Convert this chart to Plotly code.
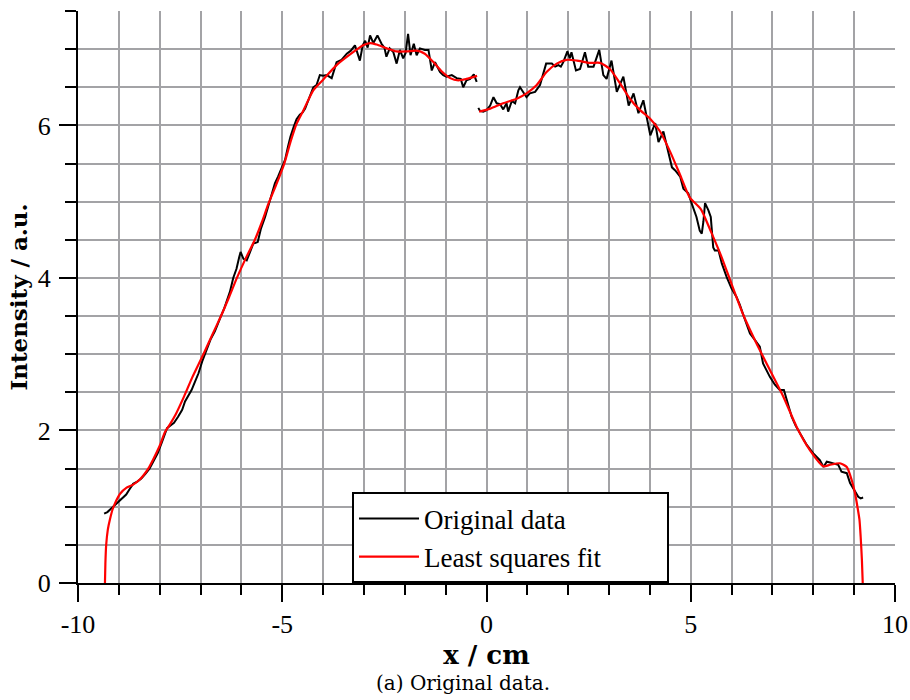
import plotly.graph_objects as go

# ---- Original data (left segment) ----
data_x_left = [-9.36, -9.28, -9.20, -9.10, -9.00, -8.90, -8.82, -8.75, -8.65, -8.55,
               -8.45, -8.35, -8.25, -8.15, -8.05, -7.95, -7.88, -7.82, -7.75, -7.65,
               -7.55, -7.45, -7.38, -7.30, -7.22, -7.15, -7.05, -6.95, -6.85, -6.75,
               -6.65, -6.58, -6.50, -6.42, -6.35, -6.28, -6.20, -6.12, -6.05, -6.02,
               -5.95, -5.87, -5.78, -5.71, -5.60, -5.52, -5.42, -5.34, -5.26, -5.18,
               -5.10, -5.02, -4.93, -4.86, -4.80, -4.72, -4.65, -4.57, -4.50, -4.44,
               -4.38, -4.32, -4.24, -4.16, -4.08, -4.00, -3.91, -3.79, -3.72, -3.67,
               -3.55, -3.42, -3.32, -3.22, -3.10, -3.03, -2.97, -2.91, -2.85, -2.77,
               -2.67, -2.57, -2.50, -2.45, -2.37, -2.28, -2.20, -2.12, -2.04, -1.98,
               -1.92, -1.86, -1.78, -1.71, -1.63, -1.51, -1.42, -1.34, -1.26, -1.14,
               -1.06, -0.98, -0.85, -0.73, -0.63, -0.57, -0.49, -0.40, -0.31, -0.24]
data_y_left = [0.91, 0.93, 0.97, 1.02, 1.07, 1.12, 1.16, 1.22, 1.30, 1.33,
               1.37, 1.43, 1.50, 1.60, 1.70, 1.84, 1.95, 2.03, 2.06, 2.10,
               2.18, 2.27, 2.38, 2.45, 2.53, 2.62, 2.75, 2.92, 3.06, 3.20,
               3.30, 3.40, 3.50, 3.60, 3.72, 3.82, 4.00, 4.12, 4.28, 4.34,
               4.25, 4.23, 4.35, 4.45, 4.47, 4.65, 4.80, 4.95, 5.09, 5.24,
               5.33, 5.43, 5.55, 5.72, 5.85, 5.98, 6.08, 6.14, 6.17, 6.22,
               6.30, 6.40, 6.50, 6.53, 6.66, 6.65, 6.66, 6.62, 6.75, 6.83,
               6.86, 6.94, 6.98, 7.05, 6.85, 7.05, 7.11, 7.02, 7.18, 7.08,
               7.18, 7.07, 7.02, 6.90, 7.01, 6.96, 6.81, 6.99, 6.88, 6.95,
               7.20, 6.92, 7.07, 6.92, 7.01, 6.99, 6.99, 6.72, 6.83, 6.70,
               6.66, 6.64, 6.66, 6.62, 6.61, 6.50, 6.59, 6.61, 6.67, 6.57]

# ---- Original data (right segment) ----
data_x_right = [-0.20, -0.16, -0.08, 0.00, 0.09, 0.17, 0.25, 0.33, 0.41, 0.49,
                0.53, 0.62, 0.70, 0.78, 0.82, 0.90, 0.98, 1.06, 1.19, 1.31,
                1.39, 1.46, 1.60, 1.68, 1.76, 1.82, 1.88, 1.98, 2.04, 2.08,
                2.19, 2.29, 2.41, 2.49, 2.62, 2.76, 2.86, 2.94, 3.06, 3.19,
                3.35, 3.48, 3.60, 3.72, 3.84, 4.01, 4.13, 4.21, 4.33, 4.45,
                4.54, 4.62, 4.74, 4.82, 4.94, 5.02, 5.14, 5.22, 5.27, 5.31,
                5.35, 5.43, 5.49, 5.55, 5.59, 5.68, 5.76, 5.88, 6.00, 6.12,
                6.20, 6.29, 6.37, 6.45, 6.55, 6.61, 6.69, 6.77, 6.86, 6.94,
                7.06, 7.18, 7.28, 7.35, 7.47, 7.57, 7.67, 7.76, 7.84, 8.00,
                8.16, 8.25, 8.33, 8.41, 8.49, 8.61, 8.69, 8.82, 8.90, 9.02,
                9.10, 9.16, 9.22]
data_y_right = [6.23, 6.19, 6.18, 6.20, 6.26, 6.37, 6.29, 6.28, 6.21, 6.29,
                6.18, 6.32, 6.29, 6.46, 6.50, 6.44, 6.37, 6.42, 6.44, 6.53,
                6.68, 6.81, 6.81, 6.77, 6.79, 6.77, 6.83, 6.97, 6.88, 6.96,
                6.72, 6.74, 6.96, 6.77, 6.77, 6.99, 6.66, 6.61, 6.85, 6.44,
                6.64, 6.26, 6.42, 6.16, 6.33, 5.87, 6.03, 5.78, 5.92, 5.67,
                5.45, 5.41, 5.33, 5.17, 5.11, 4.98, 4.80, 4.62, 4.58, 4.74,
                4.98, 4.89, 4.80, 4.40, 4.36, 4.36, 4.19, 4.01, 3.86, 3.75,
                3.65, 3.51, 3.38, 3.27, 3.20, 3.16, 3.10, 2.88, 2.78, 2.70,
                2.60, 2.53, 2.53, 2.40, 2.18, 2.06, 1.96, 1.88, 1.81, 1.70,
                1.61, 1.52, 1.59, 1.58, 1.57, 1.55, 1.46, 1.44, 1.31, 1.20,
                1.13, 1.11, 1.12]

# ---- Least squares fit (left segment) ----
fit_x_left = [-9.34, -9.33, -9.31, -9.27, -9.22, -9.15, -9.09, -8.97, -8.81, -8.65,
              -8.50, -8.40, -8.28, -8.16, -8.00, -7.87, -7.75, -7.60, -7.40, -7.20,
              -6.93, -6.70, -6.50, -6.30, -6.11, -5.90, -5.67, -5.50, -5.34, -5.15,
              -4.95, -4.80, -4.65, -4.48, -4.24, -4.00, -3.67, -3.34, -3.02, -2.85,
              -2.69, -2.44, -2.20, -1.95, -1.71, -1.51, -1.30, -1.10, -0.89, -0.69,
              -0.49, -0.23]
fit_y_left = [0.00, 0.25, 0.50, 0.70, 0.83, 0.97, 1.05, 1.17, 1.25, 1.29,
              1.35, 1.41, 1.50, 1.62, 1.80, 1.98, 2.08, 2.22, 2.45, 2.70,
              3.00, 3.27, 3.50, 3.75, 4.00, 4.25, 4.50, 4.73, 4.97, 5.22,
              5.50, 5.78, 6.02, 6.20, 6.46, 6.60, 6.79, 6.93, 7.05, 7.08,
              7.06, 7.01, 6.97, 6.97, 6.98, 6.94, 6.83, 6.71, 6.62, 6.59,
              6.61, 6.65]

# ---- Least squares fit (right segment) ----
fit_x_right = [-0.18, 0.09, 0.41, 0.74, 0.98, 1.23, 1.47, 1.72, 1.96, 2.21,
               2.53, 2.78, 3.02, 3.27, 3.51, 3.76, 4.00, 4.25, 4.50, 4.74,
               4.97, 5.25, 5.50, 5.75, 6.00, 6.29, 6.61, 6.94, 7.27, 7.59,
               7.92, 8.25, 8.41, 8.65, 8.82, 8.94, 9.02, 9.08, 9.13, 9.16,
               9.19, 9.21]
fit_y_right = [6.18, 6.22, 6.29, 6.35, 6.42, 6.53, 6.70, 6.81, 6.86, 6.85,
               6.82, 6.82, 6.74, 6.55, 6.35, 6.20, 6.09, 5.92, 5.65, 5.35,
               5.06, 4.90, 4.60, 4.28, 3.92, 3.51, 3.14, 2.79, 2.44, 2.05,
               1.74, 1.53, 1.55, 1.57, 1.52, 1.35, 1.18, 1.00, 0.83, 0.60,
               0.30, 0.00]

# ---- ticks ----
x_major_ticks = [-10, -5, 0, 5, 10]
x_tick_labels = ["-10", "-5", "0", "5", "10"]
x_minor_ticks = [-9, -8, -7, -6, -5, -4, -3, -2, -1, 0, 1, 2, 3, 4, 5, 6, 7, 8, 9]
y_major_ticks = [0, 2, 4, 6]
y_tick_labels = ["0", "2", "4", "6"]
y_minor_ticks = [0.5, 1.0, 1.5, 2.0, 2.5, 3.0, 3.5, 4.0, 4.5, 5.0, 5.5, 6.0, 6.5,
                 7.0, 7.5]

FONT = "Liberation Serif"
WIDE = "DejaVu Serif"
GRID = "#a3a3a6"

fig = go.Figure()
fig.add_trace(go.Scatter(
    x=data_x_left + [None] + data_x_right,
    y=data_y_left + [None] + data_y_right,
    mode="lines", name="Original data",
    line=dict(color="black", width=2), connectgaps=False))
fig.add_trace(go.Scatter(
    x=fit_x_left + [None] + fit_x_right,
    y=fit_y_left + [None] + fit_y_right,
    mode="lines", name="Least squares fit" + "\u00a0" * 9,
    line=dict(color="#ff0000", width=2.2, shape="spline", smoothing=0.6),
    connectgaps=False))

axis_common = dict(ticks="outside", ticklen=17, tickwidth=2, tickcolor="black",
                   showline=True, linecolor="black", linewidth=2,
                   showgrid=False, zeroline=False, automargin=False,
                   tickfont=dict(family=FONT, size=26))

fig.update_layout(
    width=910, height=700,
    margin=dict(l=78, r=15, t=11, b=117),
    paper_bgcolor="white", plot_bgcolor="white",
    font=dict(family=FONT, size=24, color="black"),
    showlegend=True,
    legend=dict(x=0.3354, y=0.0787, xanchor="left", yanchor="middle",
                bgcolor="white", bordercolor="black", borderwidth=2,
                font=dict(family=FONT, size=27), itemwidth=60,
                tracegroupgap=0),
    xaxis=dict(range=[-10, 10], tickmode="array", tickvals=x_major_ticks,
               ticktext=x_tick_labels, ticklabelstandoff=0,
               minor=dict(tickmode="array", tickvals=x_minor_ticks,
                          ticks="outside", ticklen=10, tickwidth=2,
                          tickcolor="black", showgrid=True, gridcolor=GRID,
                          gridwidth=1.5),
               title=dict(text="x / cm", standoff=8,
                          font=dict(family=WIDE, size=26, weight="bold")),
               **axis_common),
    yaxis=dict(range=[0, 7.5], tickmode="array", tickvals=y_major_ticks,
               ticktext=y_tick_labels, ticklabelstandoff=3,
               minor=dict(tickmode="array", tickvals=y_minor_ticks,
                          ticks="outside", ticklen=11, tickwidth=2,
                          tickcolor="black", showgrid=True, gridcolor=GRID,
                          gridwidth=1.5),
               title=dict(text="Intensity / a.u.", standoff=4,
                          font=dict(family=WIDE, size=23, weight="bold")),
               **axis_common),
    annotations=[dict(text="(a) Original data.", xref="paper", yref="paper",
                      x=0.471, y=-0.175, xanchor="center", yanchor="middle",
                      showarrow=False, font=dict(family=WIDE, size=20))],
)

fig.write_html(
    "out.html",
    config={"displayModeBar": False},
    post_script="document.body.style.margin='0';"
                "document.body.style.overflow='hidden';")
